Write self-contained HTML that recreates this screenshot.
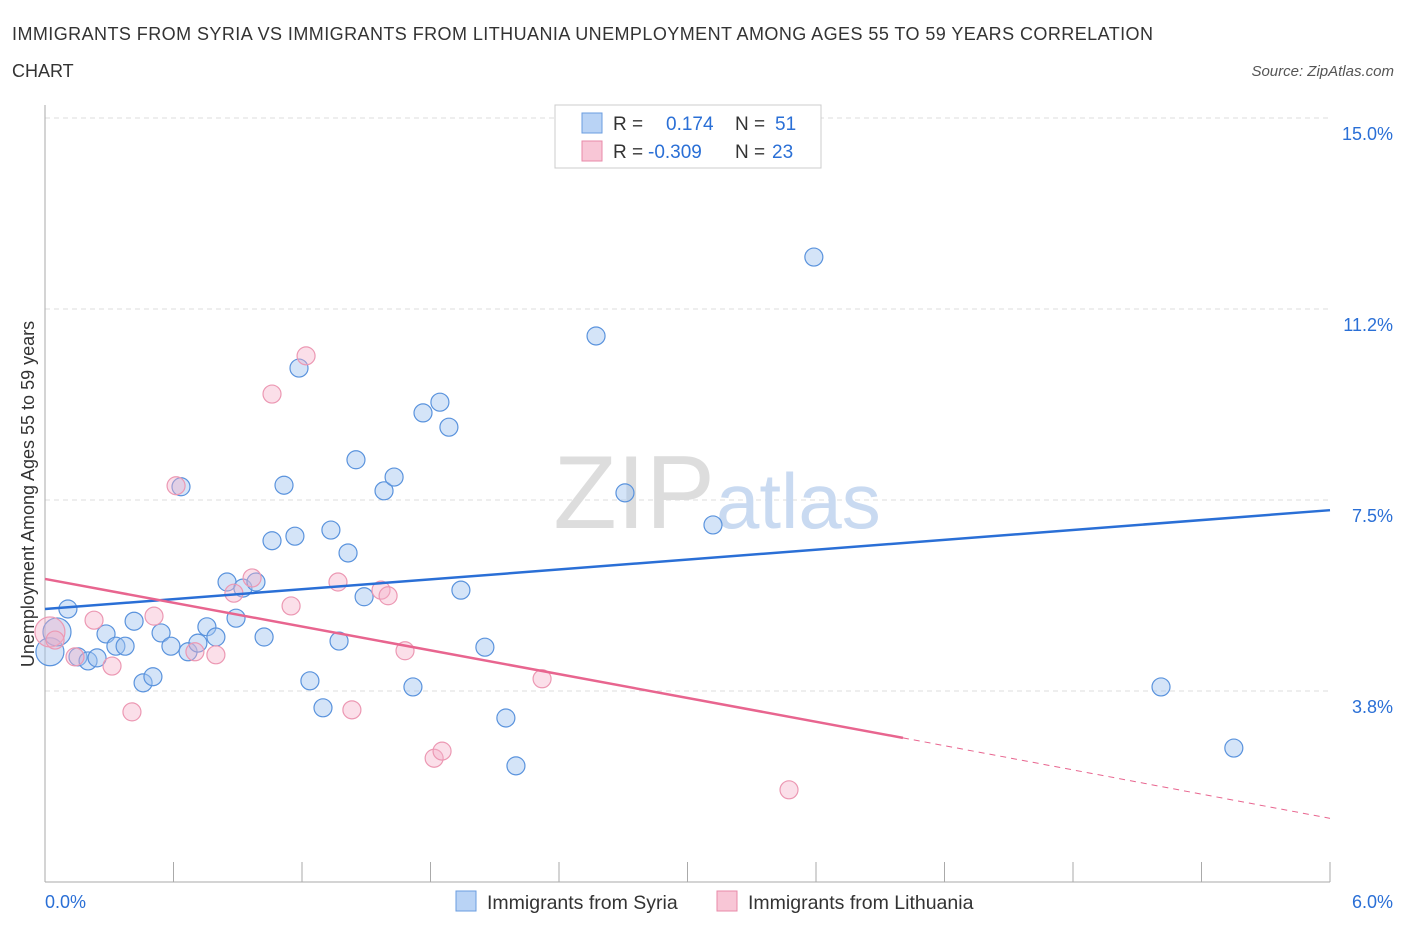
<!DOCTYPE html>
<html><head><meta charset="utf-8"><style>
body{margin:0;background:#fff;font-family:"Liberation Sans",sans-serif;}
svg text{font-family:"Liberation Sans",sans-serif;}
</style></head><body>
<svg id="c" width="1406" height="930" xmlns="http://www.w3.org/2000/svg">
<text x="12" y="40" font-size="18" fill="#333" textLength="1141">IMMIGRANTS FROM SYRIA VS IMMIGRANTS FROM LITHUANIA UNEMPLOYMENT AMONG AGES 55 TO 59 YEARS CORRELATION</text>
<text x="12" y="77" font-size="18" fill="#333">CHART</text>
<text x="1394" y="76" font-size="15" fill="#555" font-style="italic" text-anchor="end">Source: ZipAtlas.com</text>
<text x="34" y="494" font-size="18" fill="#333" text-anchor="middle" transform="rotate(-90 34 494)">Unemployment Among Ages 55 to 59 years</text>
<g id="grid"></g>
<text x="715" y="528" font-size="104" fill="#ddd" text-anchor="end" font-family="Liberation Serif">ZIP</text>
<text x="716" y="528" font-size="78" fill="#c9daf1">atlas</text>
<g id="pts"></g>
<g id="lines"></g>
<g>
<rect x="555" y="105" width="266" height="63" fill="#fff" stroke="#ccc"/>
<rect x="582" y="113" width="20" height="20" fill="#b9d3f5" stroke="#6a9de0"/>
<text x="613" y="130" font-size="19" fill="#333">R =</text><text x="666" y="130" font-size="19" fill="#2a6fd6">0.174</text>
<text x="735" y="130" font-size="19" fill="#333">N =</text><text x="775" y="130" font-size="19" fill="#2a6fd6">51</text>
<rect x="582" y="141" width="20" height="20" fill="#f8c6d6" stroke="#e88aa8"/>
<text x="613" y="158" font-size="19" fill="#333">R =</text><text x="648" y="158" font-size="19" fill="#2a6fd6">-0.309</text>
<text x="735" y="158" font-size="19" fill="#333">N =</text><text x="772" y="158" font-size="19" fill="#2a6fd6">23</text>
</g>
<g>
<rect x="456" y="891" width="20" height="20" fill="#b9d3f5" stroke="#6a9de0"/>
<text x="487" y="909" font-size="19.5" fill="#333">Immigrants from Syria</text>
<rect x="717" y="891" width="20" height="20" fill="#f8c6d6" stroke="#e88aa8"/>
<text x="748" y="909" font-size="19.5" fill="#333">Immigrants from Lithuania</text>
</g>
</svg>
<script>
const yTicks=[3.75,7.5,11.25,15];
const yTickLabels=["3.8%","7.5%","11.2%","15.0%"];
const xLabels=["0.0%","6.0%"];
const syriaX=[0.023,0.056,0.107,0.154,0.201,0.243,0.285,0.331,0.374,0.416,0.458,0.504,0.542,0.588,0.635,0.668,0.714,0.756,0.798,0.850,0.892,0.924,0.985,1.023,1.060,1.116,1.167,1.186,1.237,1.298,1.335,1.373,1.415,1.452,1.490,1.583,1.630,1.718,1.765,1.844,1.886,1.942,2.054,2.152,2.199,2.573,2.708,3.119,3.590,5.211,5.551];
const syriaY=[4.52,4.91,5.36,4.42,4.34,4.40,4.87,4.63,4.63,5.12,3.91,4.03,4.89,4.63,7.76,4.52,4.69,5.01,4.81,5.89,5.18,5.77,5.89,4.81,6.70,7.79,6.79,10.09,3.95,3.42,6.91,4.73,6.46,8.29,5.60,7.68,7.95,3.83,9.21,9.42,8.93,5.73,4.61,3.22,2.28,10.72,7.64,7.01,12.27,3.83,2.63];
const lithX=[0.023,0.047,0.140,0.229,0.313,0.406,0.509,0.612,0.700,0.798,0.882,0.967,1.060,1.149,1.219,1.368,1.433,1.569,1.602,1.681,1.817,1.854,2.321,3.474];
const lithY=[4.91,4.75,4.42,5.14,4.24,3.34,5.22,7.78,4.52,4.46,5.67,5.97,9.58,5.42,10.33,5.89,3.38,5.73,5.62,4.54,2.43,2.57,3.99,1.81];
const syriaTrendX=[0,6];const syriaTrendY=[5.36,7.30];
const lithTrendX=[0,4.006,6];const lithTrendY=[5.95,2.83,1.25];
const X=v=>45+v/6*1285, Y=v=>882-v/15*764;
const NS="http://www.w3.org/2000/svg";
function mk(p,t,a){const e=document.createElementNS(NS,t);for(const k in a)e.setAttribute(k,a[k]);p.appendChild(e);return e;}
const g=document.getElementById('grid');
yTicks.forEach((t,i)=>{
 const l=mk(g,'line',{x1:45,x2:1330,y1:Y(t),y2:Y(t),stroke:'#ddd','stroke-dasharray':'5,4'});
 
 
 const tx=mk(g,'text',{x:1393,y:Y(t)+22,'font-size':18,fill:'#2a6fd6','text-anchor':'end'});tx.textContent=yTickLabels[i];
 
 
});
const ax=mk(g,'line',{x1:45,x2:45,y1:105,y2:882,stroke:'#aaa'});


const bx=mk(g,'line',{x1:45,x2:1330,y1:882,y2:882,stroke:'#aaa'});


for(let i=1;i<=10;i++){const tk=mk(g,'line',{x1:45+i*128.5,x2:45+i*128.5,y1:862,y2:882,stroke:'#aaa'});
 
 }
[[45,'start',0],[1393,'end',1]].forEach(([x,a,i])=>{const t=mk(g,'text',{x:x,y:908,'font-size':18,fill:'#2a6fd6','text-anchor':a});t.textContent=xLabels[i];
 
 });
const p=document.getElementById('pts');
syriaX.forEach((x,i)=>{const r=i<2?14:9;
 const c=mk(p,'circle',{cx:X(x),cy:Y(syriaY[i]),r:r,fill:'rgba(160,196,240,0.45)',stroke:'#5a93dd','stroke-width':1.2});
 
 });
lithX.forEach((x,i)=>{const r=i<1?15:9;
 const c=mk(p,'circle',{cx:X(x),cy:Y(lithY[i]),r:r,fill:'rgba(245,175,200,0.4)',stroke:'#ec98b3','stroke-width':1.2});
 
 });
const L=document.getElementById('lines');
const b=mk(L,'line',{x1:X(syriaTrendX[0]),y1:Y(syriaTrendY[0]),x2:X(syriaTrendX[1]),y2:Y(syriaTrendY[1]),stroke:'#2a6fd6','stroke-width':2.5});


const pk=mk(L,'line',{x1:X(lithTrendX[0]),y1:Y(lithTrendY[0]),x2:X(lithTrendX[1]),y2:Y(lithTrendY[1]),stroke:'#e8658f','stroke-width':2.5});


const pd=mk(L,'line',{x1:X(lithTrendX[1]),y1:Y(lithTrendY[1]),x2:X(lithTrendX[2]),y2:Y(lithTrendY[2]),stroke:'#e8658f','stroke-width':1,'stroke-dasharray':'6,5'});


</script>
</body></html>
